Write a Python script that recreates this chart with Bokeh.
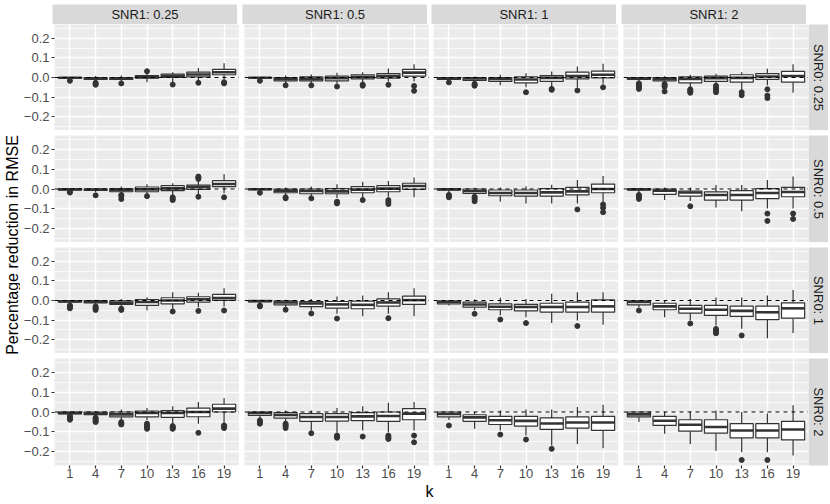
import math
from bokeh.plotting import figure
from bokeh.layouts import row, column
from bokeh.models import FixedTicker, CustomJSTickFormatter, Span, Spacer
from bokeh.core.properties import value
from bokeh.embed import file_html
from bokeh.resources import INLINE

FONT = "Liberation Sans"

# ---------------- data ----------------
k_labels = ["1", "4", "7", "10", "13", "16", "19"]
snr1_labels = ["SNR1: 0.25", "SNR1: 0.5", "SNR1: 1", "SNR1: 2"]
snr0_labels = ["SNR0: 0.25", "SNR0: 0.5", "SNR0: 1", "SNR0: 2"]
y_label = "Percentage reduction in RMSE"
x_label = "k"

# box stats per k: (lower whisker, q1, median, q3, upper whisker); outliers per k
# SNR0 0.25
box_11 = [(-0.008, -0.003, -0.001, 0.0, 0.003), (-0.02, -0.01, -0.005, 0.0, 0.008), (-0.022, -0.01, -0.005, 0.0, 0.01),
          (-0.024, -0.003, 0.003, 0.01, 0.024), (-0.024, 0.0, 0.008, 0.017, 0.027), (-0.017, 0.003, 0.015, 0.027, 0.049),
          (-0.01, 0.014, 0.027, 0.041, 0.073)]
out_11 = [[-0.017], [-0.027, -0.033, -0.037], [-0.03], [0.032], [-0.036], [-0.027], [-0.024, -0.03]]
box_12 = [(-0.008, -0.003, -0.001, 0.0, 0.003), (-0.03, -0.017, -0.008, 0.0, 0.01), (-0.03, -0.017, -0.007, 0.003, 0.015),
          (-0.032, -0.017, -0.004, 0.007, 0.024), (-0.027, -0.007, 0.003, 0.014, 0.027), (-0.02, -0.003, 0.008, 0.02, 0.046),
          (-0.02, 0.007, 0.025, 0.041, 0.068)]
out_12 = [[-0.017], [-0.04], [-0.04], [-0.046], [-0.036, -0.042], [-0.037], [-0.043, -0.068]]
box_13 = [(-0.015, -0.01, -0.004, 0.0, 0.003), (-0.025, -0.015, -0.005, 0.0, 0.005), (-0.04, -0.02, -0.008, 0.0, 0.014),
          (-0.05, -0.027, -0.01, 0.003, 0.022), (-0.05, -0.02, -0.002, 0.01, 0.03), (-0.05, -0.007, 0.007, 0.027, 0.056),
          (-0.032, -0.002, 0.014, 0.032, 0.07)]
out_13 = [[-0.025], [-0.032, -0.037, -0.042], [], [-0.075], [-0.058, -0.063], [-0.066], [-0.05]]
box_14 = [(-0.02, -0.01, -0.004, 0.0, 0.003), (-0.025, -0.017, -0.007, 0.0, 0.006), (-0.05, -0.027, -0.008, 0.003, 0.014),
          (-0.035, -0.02, -0.003, 0.007, 0.019), (-0.066, -0.024, -0.002, 0.014, 0.027), (-0.04, -0.01, 0.005, 0.02, 0.044),
          (-0.078, -0.024, 0.008, 0.031, 0.068)]
out_14 = [[-0.03, -0.037, -0.045, -0.052, -0.058], [-0.033, -0.04, -0.047, -0.071], [-0.06, -0.066, -0.072, -0.078],
          [-0.042, -0.05, -0.058, -0.066, -0.075], [-0.075, -0.09], [-0.06, -0.092, -0.105], []]
# SNR0 0.5
box_21 = [(-0.01, -0.005, -0.002, 0.0, 0.003), (-0.015, -0.007, -0.003, 0.0, 0.004), (-0.025, -0.014, -0.005, 0.002, 0.012),
          (-0.03, -0.014, -0.002, 0.01, 0.024), (-0.03, -0.008, 0.003, 0.017, 0.029), (-0.025, -0.002, 0.01, 0.02, 0.046),
          (-0.022, 0.012, 0.025, 0.042, 0.076)]
out_21 = [[-0.014, -0.018], [-0.032], [-0.03, -0.035, -0.051], [-0.036], [-0.042, -0.05, -0.056],
          [-0.039, 0.051, 0.058, 0.063], [-0.042]]
box_22 = [(-0.01, -0.003, -0.001, 0.0, 0.003), (-0.03, -0.019, -0.008, 0.0, 0.007), (-0.035, -0.024, -0.01, 0.0, 0.012),
          (-0.045, -0.024, -0.012, 0.002, 0.024), (-0.047, -0.019, -0.003, 0.012, 0.036), (-0.039, -0.014, 0.002, 0.017, 0.04),
          (-0.042, -0.002, 0.015, 0.029, 0.058)]
out_22 = [[-0.019], [-0.042, -0.047], [-0.047], [-0.064, -0.068, -0.073], [-0.056], [-0.056, -0.066, -0.076], []]
box_23 = [(-0.02, -0.005, -0.002, 0.0, 0.003), (-0.035, -0.022, -0.01, 0.0, 0.006), (-0.064, -0.034, -0.02, -0.005, 0.008),
          (-0.073, -0.036, -0.02, -0.005, 0.014), (-0.073, -0.036, -0.017, 0.002, 0.022), (-0.073, -0.03, -0.012, 0.008, 0.046),
          (-0.066, -0.019, 0.0, 0.025, 0.066)]
out_23 = [[-0.03, -0.036, -0.042], [-0.039, -0.045, -0.052, -0.062], [], [], [], [-0.103], [-0.078, -0.095, -0.117]]
box_24 = [(-0.02, -0.005, -0.002, 0.0, 0.003), (-0.056, -0.027, -0.008, 0.0, 0.007), (-0.06, -0.036, -0.018, -0.01, 0.007),
          (-0.093, -0.056, -0.03, -0.015, 0.02), (-0.112, -0.056, -0.03, -0.008, 0.02), (-0.098, -0.049, -0.02, 0.002, 0.046),
          (-0.098, -0.039, -0.015, 0.008, 0.063)]
out_24 = [[-0.03, -0.038, -0.045, -0.05], [], [-0.087], [], [], [-0.124, -0.161], [-0.124, -0.151]]
# SNR0 1
box_31 = [(-0.015, -0.008, -0.004, 0.0, 0.003), (-0.02, -0.012, -0.006, 0.0, 0.004), (-0.035, -0.02, -0.012, -0.002, 0.008),
          (-0.051, -0.025, -0.008, 0.005, 0.017), (-0.045, -0.017, 0.0, 0.014, 0.042), (-0.034, -0.008, 0.006, 0.019, 0.039),
          (-0.031, 0.0, 0.012, 0.031, 0.063)]
out_31 = [[-0.025, -0.03, -0.034, -0.04], [-0.03, -0.036, -0.042, -0.048], [-0.042, -0.048], [], [-0.056], [-0.053], [-0.051]]
box_32 = [(-0.015, -0.006, -0.003, 0.0, 0.003), (-0.035, -0.022, -0.01, -0.002, 0.004), (-0.05, -0.031, -0.015, -0.005, 0.008),
          (-0.068, -0.039, -0.02, -0.005, 0.02), (-0.08, -0.042, -0.022, -0.003, 0.025), (-0.068, -0.029, -0.01, 0.008, 0.042),
          (-0.08, -0.02, 0.002, 0.022, 0.063)]
out_32 = [[-0.025, -0.03], [-0.047], [-0.066], [-0.092], [], [-0.09], []]
box_33 = [(-0.025, -0.017, -0.006, -0.003, 0.002), (-0.05, -0.034, -0.02, -0.008, 0.005), (-0.075, -0.047, -0.032, -0.017, 0.014),
          (-0.085, -0.053, -0.033, -0.02, 0.008), (-0.115, -0.059, -0.033, -0.014, 0.034), (-0.102, -0.059, -0.033, -0.008, 0.042),
          (-0.124, -0.059, -0.03, 0.003, 0.042)]
out_33 = [[], [-0.068], [-0.097], [-0.115], [], [-0.13], []]
box_34 = [(-0.034, -0.022, -0.008, -0.002, 0.002), (-0.085, -0.047, -0.03, -0.014, 0.003), (-0.1, -0.064, -0.042, -0.025, 0.008),
          (-0.127, -0.076, -0.047, -0.025, 0.015), (-0.144, -0.081, -0.053, -0.029, 0.015), (-0.192, -0.097, -0.06, -0.029, 0.025),
          (-0.166, -0.09, -0.04, -0.012, 0.054)]
out_34 = [[-0.051], [], [-0.117], [-0.145, -0.152, -0.16, -0.167], [-0.178], [], []]
# SNR0 2
box_41 = [(-0.017, -0.01, -0.005, 0.0, 0.003), (-0.022, -0.014, -0.008, 0.0, 0.004), (-0.042, -0.025, -0.012, 0.0, 0.012),
          (-0.042, -0.025, -0.005, 0.005, 0.02), (-0.059, -0.027, -0.005, 0.007, 0.029), (-0.059, -0.024, 0.0, 0.02, 0.051),
          (-0.059, 0.0, 0.017, 0.039, 0.071)]
out_41 = [[-0.02, -0.025, -0.03, -0.035, -0.039], [-0.029, -0.035, -0.04, -0.047, -0.051], [-0.051, -0.058, -0.063],
          [-0.059, -0.068, -0.076, -0.085], [-0.071, -0.076, -0.081, -0.085], [-0.105], [-0.068, -0.074, -0.081]]
box_42 = [(-0.035, -0.017, -0.005, 0.0, 0.003), (-0.05, -0.031, -0.015, -0.003, 0.008), (-0.093, -0.047, -0.025, -0.008, 0.008),
          (-0.105, -0.046, -0.025, -0.008, 0.02), (-0.093, -0.044, -0.022, -0.003, 0.029), (-0.102, -0.047, -0.02, 0.0, 0.047),
          (-0.093, -0.039, -0.008, 0.017, 0.051)]
out_42 = [[-0.042, -0.05, -0.059], [-0.059, -0.066, -0.071, -0.081], [-0.107], [-0.119, -0.125, -0.13], [-0.124],
          [-0.119, -0.125, -0.132, -0.136], [-0.119, -0.153]]
box_43 = [(-0.04, -0.025, -0.01, 0.0, 0.003), (-0.085, -0.047, -0.027, -0.014, 0.0), (-0.093, -0.063, -0.042, -0.022, 0.008),
          (-0.119, -0.071, -0.045, -0.022, 0.012), (-0.169, -0.088, -0.058, -0.03, 0.012), (-0.161, -0.081, -0.053, -0.025, 0.025),
          (-0.183, -0.093, -0.053, -0.022, 0.037)]
out_43 = [[-0.068], [], [-0.114], [-0.139], [-0.186], [], []]
box_44 = [(-0.051, -0.025, -0.012, 0.0, 0.003), (-0.11, -0.068, -0.044, -0.022, 0.003), (-0.161, -0.097, -0.064, -0.039, 0.003),
          (-0.195, -0.107, -0.076, -0.039, 0.008), (-0.203, -0.131, -0.093, -0.059, 0.0), (-0.203, -0.131, -0.093, -0.059, -0.008),
          (-0.22, -0.141, -0.088, -0.047, 0.034)]
out_44 = [[], [], [], [], [-0.242], [-0.242], []]

panel_data = [
    [(box_11, out_11), (box_12, out_12), (box_13, out_13), (box_14, out_14)],
    [(box_21, out_21), (box_22, out_22), (box_23, out_23), (box_24, out_24)],
    [(box_31, out_31), (box_32, out_32), (box_33, out_33), (box_34, out_34)],
    [(box_41, out_41), (box_42, out_42), (box_43, out_43), (box_44, out_44)],
]

y_major = [-0.2, -0.1, 0.0, 0.1, 0.2]
y_minor = [-0.25, -0.15, -0.05, 0.05, 0.15, 0.25]

# ---------------- layout constants ----------------
PW = 185
ROW_H = [106, 107, 106, 107]
COL_GAP = [0, 5, 4, 5]
ROW_GAP = 5
TOP_PAD = 4
LEFT_AX = 32
BOT_AX = 18
STRIP_H = 20
STRIP_W = 20
YLAB_W = 20
INK = "#333333"
TXT = "13px"


def base_fig(fw, fh, left, top, bottom, bg, **kw):
    return figure(frame_width=fw, frame_height=fh, min_border=0,
                  min_border_left=left, min_border_right=0,
                  min_border_top=top, min_border_bottom=bottom,
                  toolbar_location=None, output_backend="svg",
                  background_fill_color=bg, border_fill_color="white",
                  outline_line_color=None, **kw)


def make_panel(r, c, boxes, outs):
    left = LEFT_AX if c == 0 else COL_GAP[c]
    top = TOP_PAD + STRIP_H if r == 0 else ROW_GAP
    bottom = BOT_AX if r == 3 else 0
    p = base_fig(PW, ROW_H[r], left, 0, bottom, "#EBEBEB",
                 x_range=(0.4, len(k_labels) + 0.6), y_range=(-0.27, 0.27),
                 x_axis_location="below" if r == 3 else None,
                 y_axis_location="left" if c == 0 else None)
    p.min_border_top = 0 if r == 0 else ROW_GAP
    pos = list(range(1, len(k_labels) + 1))
    p.xgrid.ticker = FixedTicker(ticks=pos)
    p.xgrid.grid_line_color = "white"
    p.xgrid.grid_line_width = 1.4
    p.ygrid.ticker = FixedTicker(ticks=y_major, minor_ticks=y_minor)
    p.ygrid.grid_line_color = "white"
    p.ygrid.grid_line_width = 1.4
    p.ygrid.minor_grid_line_color = "white"
    p.ygrid.minor_grid_line_width = 0.7

    for ax in p.xaxis:
        ax.ticker = FixedTicker(ticks=pos)
        ax.formatter = CustomJSTickFormatter(args=dict(labels=k_labels),
                                             code="return labels[Math.round(tick) - 1];")
        ax.major_label_standoff = 0
    for ax in p.yaxis:
        ax.ticker = FixedTicker(ticks=y_major)
        ax.formatter = CustomJSTickFormatter(code="return tick.toFixed(1).replace('-', '\u2212');")
        ax.major_label_standoff = 2
    for ax in list(p.xaxis) + list(p.yaxis):
        ax.axis_line_color = None
        ax.major_tick_in = 0
        ax.major_tick_out = 3
        ax.major_tick_line_color = INK
        ax.major_tick_line_width = 1.2
        ax.minor_tick_line_color = None
        ax.major_label_text_font = FONT
        ax.major_label_text_font_size = TXT
        ax.major_label_text_color = "#4D4D4D"

    lo, q1, med, q3, hi = (list(v) for v in zip(*boxes))
    p.segment(x0=pos, x1=pos, y0=q3, y1=hi, line_color=INK, line_width=1.2)
    p.segment(x0=pos, x1=pos, y0=lo, y1=q1, line_color=INK, line_width=1.2)
    p.vbar(x=pos, width=0.9, bottom=q1, top=q3, fill_color="white",
           line_color=INK, line_width=1.2)
    p.segment(x0=[x - 0.45 for x in pos], x1=[x + 0.45 for x in pos], y0=med, y1=med,
              line_color=INK, line_width=2.6)
    ox = [pos[i] for i, o in enumerate(outs) for _ in o]
    oy = [v for o in outs for v in o]
    p.scatter(ox, oy, size=5, color=INK)
    p.add_layout(Span(location=0, dimension="width", line_color="black",
                      line_dash="4 4", line_width=1.1))
    return p


def strip(text, fw, fh, left, top, bottom, angle):
    p = base_fig(fw, fh, left, top, bottom, "#D9D9D9",
                 x_range=(0, 1), y_range=(0, 1),
                 x_axis_location=None, y_axis_location=None)
    p.grid.visible = False
    p.text(x=[0.5], y=[0.5], text=[text], angle=angle, text_align="center",
           text_baseline="middle", text_font=value(FONT), text_font_size=TXT,
           text_color="#1A1A1A")
    return p


def label_fig(text, fw, fh, tx, ty, angle):
    p = base_fig(fw, fh, 0, 0, 0, "white", x_range=(0, fw), y_range=(0, fh),
                 x_axis_location=None, y_axis_location=None)
    p.grid.visible = False
    p.text(x=[tx], y=[ty], text=[text], angle=angle, text_align="center",
           text_baseline="middle", text_font=value(FONT), text_font_size="16px",
           text_color="black")
    return p


top_row = row([strip(snr1_labels[c], PW, STRIP_H, LEFT_AX if c == 0 else COL_GAP[c], TOP_PAD, 0, 0)
               for c in range(4)] + [Spacer(width=STRIP_W, height=STRIP_H + TOP_PAD)])
panel_rows = []
for r in range(4):
    figs = [make_panel(r, c, *panel_data[r][c]) for c in range(4)]
    figs.append(strip(snr0_labels[r], STRIP_W, ROW_H[r], 0, 0 if r == 0 else ROW_GAP,
                      BOT_AX if r == 3 else 0, -math.pi / 2))
    panel_rows.append(row(figs))
main = column([top_row] + panel_rows)

panels_top = TOP_PAD + STRIP_H
panels_bottom = panels_top + sum(ROW_H) + 3 * ROW_GAP
ylab = label_fig(y_label, YLAB_W, panels_bottom, YLAB_W / 2 + 2,
                 panels_bottom - (panels_top + panels_bottom) / 2, math.pi / 2)
panels_w = 4 * PW + sum(COL_GAP)
full_w = YLAB_W + LEFT_AX + panels_w + STRIP_W
klab = label_fig(x_label, full_w, 16, YLAB_W + LEFT_AX + panels_w / 2, 8, 0)

page = column(row(ylab, main), klab)
open("out.html", "w").write(file_html(page, INLINE, "chart"))
